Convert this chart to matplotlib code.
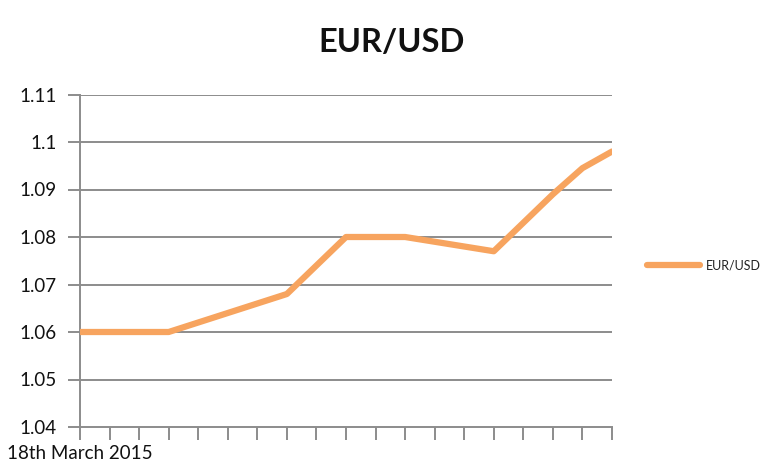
import matplotlib
matplotlib.use("Agg")
import matplotlib.pyplot as plt

plt.rcParams['font.family'] = ['Lato', 'DejaVu Sans']

title = "EUR/USD"
series_name = "EUR/USD"
x_first_label = "18th March 2015"
values = [1.060, 1.060, 1.060, 1.060, 1.062, 1.064, 1.066, 1.068, 1.074, 1.080,
          1.080, 1.080, 1.079, 1.078, 1.077, 1.083, 1.089, 1.0945, 1.098]
y_ticks = [1.04, 1.05, 1.06, 1.07, 1.08, 1.09, 1.10, 1.11]
y_labels = ["1.04", "1.05", "1.06", "1.07", "1.08", "1.09", "1.1", "1.11"]

fig = plt.figure(figsize=(7.7, 4.68), dpi=100)
ax = fig.add_axes([80/770, 1-427/468, 532/770, (427-94.5)/468])

x = list(range(len(values)))
ax.plot(x, values, color='#F7A45F', linewidth=4.5, solid_capstyle='round',
        solid_joinstyle='round', label=series_name, zorder=3)

ax.set_xlim(0, len(values)-1)
ax.set_ylim(1.04, 1.11)
ax.set_yticks(y_ticks)
ax.set_yticklabels(y_labels)
ax.set_xticks(x)
ax.set_xticklabels([x_first_label] + [""]*(len(values)-1))

grid_c = '#8c8c8c'
for yv in y_ticks[1:]:
    ax.axhline(yv, color=grid_c, linewidth=1.4, zorder=1)
for s in ['top', 'right']:
    ax.spines[s].set_visible(False)
for s in ['left', 'bottom']:
    ax.spines[s].set_color(grid_c)
    ax.spines[s].set_linewidth(1.4)
ax.tick_params(axis='y', length=9, width=1.4, color=grid_c, pad=8, labelsize=13.5, labelcolor='#111111')
ax.tick_params(axis='x', length=9, width=1.4, color=grid_c, pad=4, labelsize=13.5, labelcolor='#111111')

fig.text(0.508, 1-42/468, title, ha='center', va='center', fontsize=23.5, fontweight='bold', color='#111111')

leg = ax.legend(loc='center left', bbox_to_anchor=(1.045, 1-(265-94.5)/(427-94.5)), frameon=False,
                fontsize=9, handlelength=4.2, handletextpad=0.5)
for t in leg.get_texts():
    t.set_color('#222222')

fig.savefig("out.png", dpi=100)
